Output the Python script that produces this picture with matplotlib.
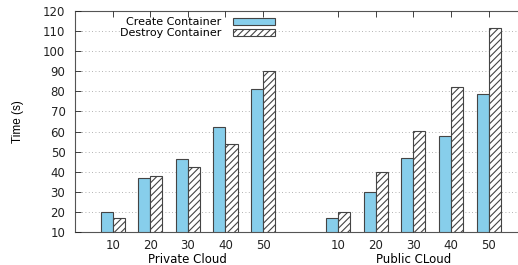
import matplotlib.pyplot as plt
import numpy as np

sizes = ['10', '20', '30', '40', '50']
groups = ['Private Cloud', 'Public CLoud']
private_create = [20, 36.7, 46.3, 62.5, 81.3]
private_destroy = [17, 38, 42.3, 53.8, 90.4]
public_create = [17, 30, 46.8, 58, 78.7]
public_destroy = [20, 40, 60.3, 82.2, 111.8]
yticks = list(range(10, 121, 10))

plt.rcParams['hatch.linewidth'] = 0.8
plt.rcParams['hatch.color'] = '#333333'

fig = plt.figure(figsize=(5.18, 2.65), dpi=100)
ax = fig.add_axes([0.145, 0.125, 0.86, 0.833])
ax.set_axisbelow(False)

pos_private = np.arange(1, 6)
pos_public = np.arange(7, 12)
pos = np.concatenate([pos_private, pos_public])
create = private_create + public_create
destroy = private_destroy + public_destroy
w = 0.32

ax.bar(pos - w / 2, np.array(create) - 10, w, bottom=10, color='#87ceeb',
       edgecolor='#444444', linewidth=0.8, label='Create Container', zorder=3)
ax.bar(pos + w / 2, np.array(destroy) - 10, w, bottom=10, color='white',
       edgecolor='#444444', linewidth=0.8, hatch='/////', label='Destroy Container', zorder=3)

# dotted grid drawn as lines so the legend box can sit on top of it
for y in yticks[1:-1]:
    ax.axhline(y, linestyle=(0, (1, 3)), color='#999999', linewidth=0.6, zorder=0.5)

ax.set_xlim(0, 11.85)
ax.set_ylim(10, 120)
ax.set_yticks(yticks)
ax.set_xticks(pos)
ax.set_xticklabels(sizes * 2)
ax.tick_params(axis='both', direction='in', labelsize=8.5, length=4, width=0.6,
               top=True, right=False, pad=7, colors='#222222')
ax.tick_params(axis='x', pad=5)
for s in ['left', 'bottom', 'top']:
    ax.spines[s].set_color('#555555')
    ax.spines[s].set_linewidth(0.8)
ax.spines['right'].set_visible(False)

ax.set_ylabel('Time (s)', fontsize=8.5, family='Liberation Sans', labelpad=14)
ax.text(3, -0.095, groups[0], transform=ax.get_xaxis_transform(), ha='center',
        va='top', fontsize=8.5)
ax.text(9, -0.095, groups[1], transform=ax.get_xaxis_transform(), ha='center',
        va='top', fontsize=8.5)

leg = ax.legend(loc='upper center', bbox_to_anchor=(0.275, 1.0), frameon=True,
                markerfirst=False, fontsize=8, handlelength=3.8, handleheight=0.55,
                labelspacing=0.1, handletextpad=1.0, borderpad=0.05, fancybox=False)
leg.get_frame().set_edgecolor('none')
leg.get_frame().set_facecolor('white')
leg.get_frame().set_alpha(1)
leg.set_zorder(2)
for t in leg.get_texts():
    t.set_ha('right')

fig.savefig('out.png', dpi=100)
